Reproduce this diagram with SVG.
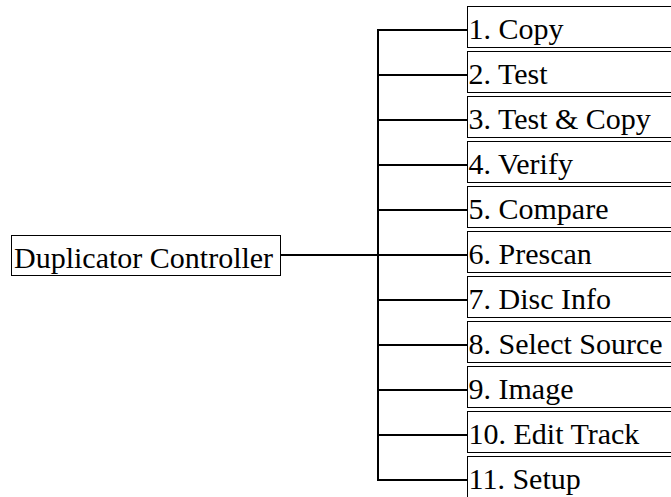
<svg xmlns="http://www.w3.org/2000/svg" width="671" height="497" viewBox="0 0 671 497">
<style>
.box{fill:#fff;stroke:#000;stroke-width:1}
.lbl{font-family:"Liberation Serif","Times New Roman",serif;font-size:30px;fill:#000}
.conn{stroke:#000;stroke-width:2;fill:none}
</style>
<rect width="671" height="497" fill="#fff"/>
<g id="connectors">
<path class="conn" d="M281 255H467M378 29V481M377 30H467M377 75H467M377 120H467M377 165H467M377 210H467M377 300H467M377 345H467M377 390H467M377 435H467M377 480H467"/>
</g>
<g id="root"><rect class="box" x="11.5" y="235.5" width="269" height="40"/><text class="lbl" x="14" y="267.5">Duplicator Controller</text></g>
<g id="n1"><rect class="box" x="467.5" y="6.5" width="300" height="41"/><text class="lbl" x="468.5" y="38.5">1. Copy</text></g>
<g id="n2"><rect class="box" x="467.5" y="51.5" width="300" height="41"/><text class="lbl" x="468.5" y="83.5">2. Test</text></g>
<g id="n3"><rect class="box" x="467.5" y="96.5" width="300" height="41"/><text class="lbl" x="468.5" y="128.5">3. Test &amp; Copy</text></g>
<g id="n4"><rect class="box" x="467.5" y="141.5" width="300" height="41"/><text class="lbl" x="468.5" y="173.5">4. Verify</text></g>
<g id="n5"><rect class="box" x="467.5" y="186.5" width="300" height="41"/><text class="lbl" x="468.5" y="218.5">5. Compare</text></g>
<g id="n6"><rect class="box" x="467.5" y="231.5" width="300" height="41"/><text class="lbl" x="468.5" y="263.5">6. Prescan</text></g>
<g id="n7"><rect class="box" x="467.5" y="276.5" width="300" height="41"/><text class="lbl" x="468.5" y="308.5">7. Disc Info</text></g>
<g id="n8"><rect class="box" x="467.5" y="321.5" width="300" height="41"/><text class="lbl" x="468.5" y="353.5">8. Select Source</text></g>
<g id="n9"><rect class="box" x="467.5" y="366.5" width="300" height="41"/><text class="lbl" x="468.5" y="398.5">9. Image</text></g>
<g id="n10"><rect class="box" x="467.5" y="411.5" width="300" height="41"/><text class="lbl" x="468.5" y="443.5">10. Edit Track</text></g>
<g id="n11"><rect class="box" x="467.5" y="456.5" width="300" height="41"/><text class="lbl" x="468.5" y="488.5">11. Setup</text></g>
</svg>
